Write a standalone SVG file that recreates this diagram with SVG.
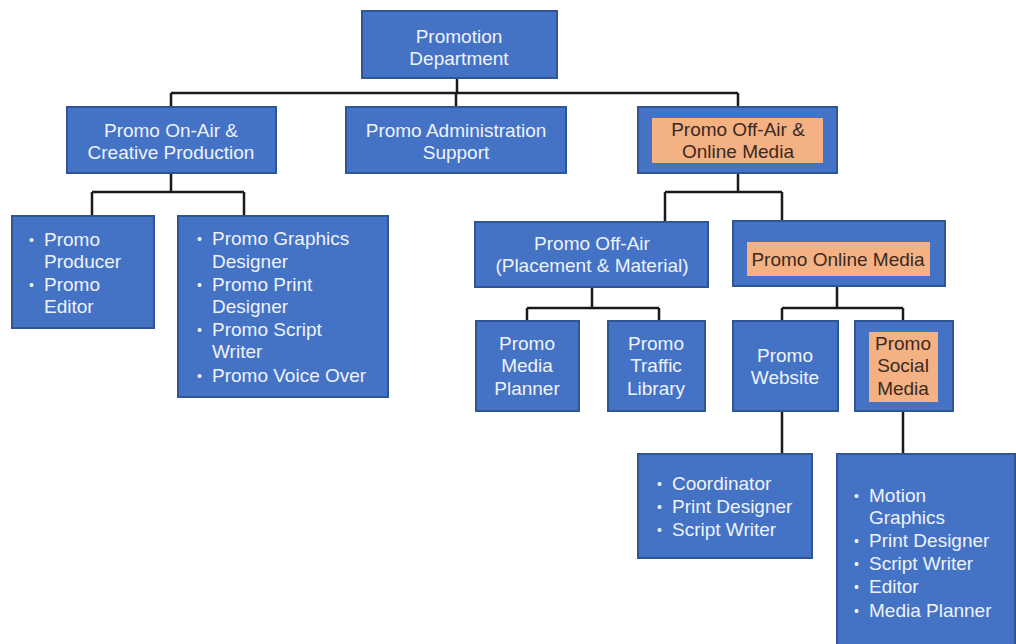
<svg xmlns="http://www.w3.org/2000/svg" width="1016" height="644" viewBox="0 0 1016 644">
<style>
.box{fill:#4472c4;stroke:#2f5597;stroke-width:2}
.hl{fill:#f4b183;stroke:none}
.t{font-family:"Liberation Sans",Arial,sans-serif;font-size:19px;fill:#eef3fb}
.b{font-size:14px}
.c{text-anchor:middle}
.d{fill:#3b2a1e}
.ln{fill:none;stroke:#1a1a1a;stroke-width:2.5}
</style>
<rect width="1016" height="644" fill="#ffffff"/>
<g id="connectors" class="ln">
<path d="M457,78V93M171,93H738M171,93V107M456,93V107M738,93V107"/>
<path d="M171,173V192M92,192H244M92,192V216M244,192V216"/>
<path d="M738,173V192M665,192H782M665,192V222M782,192V221"/>
<path d="M592,287V308M527,308H659M527,308V321M659,308V321"/>
<path d="M837,286V308M782,308H903M782,308V321M903,308V321"/>
<path d="M782,411V454M903,411V454"/>
</g>
<g id="promotion-department">
<rect class="box" x="362" y="11" width="195" height="67"/>
<text class="t c" x="459" y="43">Promotion</text>
<text class="t c" x="459" y="65">Department</text>
</g>
<g id="on-air-creative">
<rect class="box" x="67" y="107" width="209" height="66"/>
<text class="t c" x="171" y="137">Promo On-Air &amp;</text>
<text class="t c" x="171" y="159">Creative Production</text>
</g>
<g id="administration">
<rect class="box" x="346" y="107" width="220" height="66"/>
<text class="t c" x="456" y="137">Promo Administration</text>
<text class="t c" x="456" y="159">Support</text>
</g>
<g id="off-air-online">
<rect class="box" x="638" y="107" width="199" height="66"/>
<rect class="hl" x="652" y="118" width="171" height="45"/>
<text class="t c d" x="738" y="136">Promo Off-Air &amp;</text>
<text class="t c d" x="738" y="158">Online Media</text>
</g>
<g id="producer-editor">
<rect class="box" x="12" y="216" width="142" height="112"/>
<text class="t b" x="29" y="245">•</text><text class="t" x="44" y="246">Promo</text>
<text class="t" x="44" y="268">Producer</text>
<text class="t b" x="29" y="290">•</text><text class="t" x="44" y="291">Promo</text>
<text class="t" x="44" y="313">Editor</text>
</g>
<g id="graphics-print-script-voice">
<rect class="box" x="178" y="216" width="210" height="181"/>
<text class="t b" x="197" y="244">•</text><text class="t" x="212" y="245">Promo Graphics</text>
<text class="t" x="212" y="268">Designer</text>
<text class="t b" x="197" y="290">•</text><text class="t" x="212" y="291">Promo Print</text>
<text class="t" x="212" y="313">Designer</text>
<text class="t b" x="197" y="335">•</text><text class="t" x="212" y="336">Promo Script</text>
<text class="t" x="212" y="358">Writer</text>
<text class="t b" x="197" y="381">•</text><text class="t" x="212" y="382">Promo Voice Over</text>
</g>
<g id="off-air-placement">
<rect class="box" x="475" y="222" width="233" height="65"/>
<text class="t c" x="592" y="250">Promo Off-Air</text>
<text class="t c" x="592" y="272">(Placement &amp; Material)</text>
</g>
<g id="online-media">
<rect class="box" x="733" y="221" width="212" height="65"/>
<rect class="hl" x="747" y="242" width="183" height="34"/>
<text class="t c d" x="838" y="266">Promo Online Media</text>
</g>
<g id="media-planner">
<rect class="box" x="476" y="321" width="103" height="90"/>
<text class="t c" x="527" y="350">Promo</text>
<text class="t c" x="527" y="372">Media</text>
<text class="t c" x="527" y="395">Planner</text>
</g>
<g id="traffic-library">
<rect class="box" x="608" y="321" width="97" height="90"/>
<text class="t c" x="656" y="350">Promo</text>
<text class="t c" x="656" y="372">Traffic</text>
<text class="t c" x="656" y="395">Library</text>
</g>
<g id="website">
<rect class="box" x="733" y="321" width="105" height="90"/>
<text class="t c" x="785" y="362">Promo</text>
<text class="t c" x="785" y="384">Website</text>
</g>
<g id="social-media">
<rect class="box" x="855" y="321" width="98" height="90"/>
<rect class="hl" x="869" y="332" width="69" height="70"/>
<text class="t c d" x="903" y="350">Promo</text>
<text class="t c d" x="903" y="372">Social</text>
<text class="t c d" x="903" y="395">Media</text>
</g>
<g id="website-roles">
<rect class="box" x="638" y="454" width="174" height="104"/>
<text class="t b" x="657" y="489">•</text><text class="t" x="672" y="490">Coordinator</text>
<text class="t b" x="657" y="512">•</text><text class="t" x="672" y="513">Print Designer</text>
<text class="t b" x="657" y="535">•</text><text class="t" x="672" y="536">Script Writer</text>
</g>
<g id="social-roles">
<rect class="box" x="837" y="454" width="178" height="196"/>
<text class="t b" x="854" y="501">•</text><text class="t" x="869" y="502">Motion</text>
<text class="t" x="869" y="524">Graphics</text>
<text class="t b" x="854" y="546">•</text><text class="t" x="869" y="547">Print Designer</text>
<text class="t b" x="854" y="569">•</text><text class="t" x="869" y="570">Script Writer</text>
<text class="t b" x="854" y="592">•</text><text class="t" x="869" y="593">Editor</text>
<text class="t b" x="854" y="616">•</text><text class="t" x="869" y="617">Media Planner</text>
</g>
</svg>
